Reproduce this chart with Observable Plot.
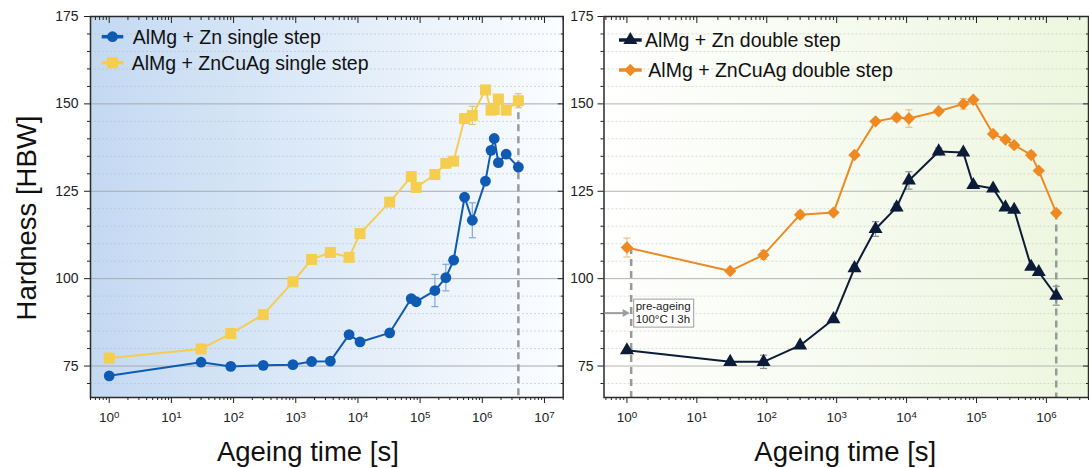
<!DOCTYPE html>
<html><head><meta charset="utf-8">
<script src="https://cdn.jsdelivr.net/npm/d3@7"></script>
<script src="https://cdn.jsdelivr.net/npm/@observablehq/plot@0.6"></script>
<style>
body{margin:0;background:#fff;}
#wrap{position:relative;width:1089px;height:468px;overflow:hidden;font-family:"Liberation Sans",Arial,sans-serif;}
#wrap svg{position:absolute;top:0;}
</style></head><body><div id="wrap"></div><script>
// ---------- data ----------
const yDomain = [66, 175];
const yMajor = [75, 100, 125, 150, 175];
const xMajorLeft = [1, 10, 100, 1e3, 1e4, 1e5, 1e6, 1e7];
const xMajorRight = [1, 10, 100, 1e3, 1e4, 1e5, 1e6];
const xDomainLeft = [0.5, 2e7];
const xDomainRight = [0.47, 4e6];

const seriesNames = ["AlMg + Zn single step", "AlMg + ZnCuAg single step", "AlMg + Zn double step", "AlMg + ZnCuAg double step"];
const seriesColors = ["#0f5ab3", "#f5cd4f", "#0c1c38", "#ef8a22"];
const errColors = ["#7fa9dc", "#d9c68a", "#8a8f99", "#f3bd84"];

const singleTime = [1, 30, 90, 300, 900, 1800, 3600, 7200, 10800, 32400, 72000, 86400, 172800, 259200, 345600, 518400, 691200, 1123200, 1382400, 1555200, 1814400, 2419200, 3801600];
const znSingle   = [72.2, 76.1, 74.9, 75.2, 75.4, 76.3, 76.4, 84.0, 81.9, 84.5, 94.3, 93.4, 96.6, 100.3, 105.3, 123.3, 116.7, 127.9, 136.7, 140.1, 133.2, 135.6, 131.9];
const znSingleErr = [0, 0, 0, 0, 0, 0, 0, 0, 0, 0, 0, 0, 4.6, 3.8, 0, 0, 5.0, 0, 0, 0, 0, 0, 0];
const cuagSingle = [77.3, 79.9, 84.3, 89.7, 99.1, 105.5, 107.5, 106.1, 112.9, 121.9, 129.2, 126.1, 129.8, 133.0, 133.6, 145.8, 146.7, 154.0, 148.2, 148.4, 151.4, 148.2, 150.9];
const cuagSingleErr = [0, 0, 0, 0, 0, 0, 0, 0, 0, 0, 0, 0, 0, 0, 0, 0, 2.6, 0, 0, 0, 0, 0, 2.0];

const doubleTime = [1, 30, 90, 300, 900, 1800, 3600, 7200, 10800, 28800, 64800, 90000, 172800, 259200, 345600, 604800, 777600, 1382400];
const znDouble   = [79.5, 76.2, 76.2, 80.9, 88.4, 103.0, 114.2, 120.4, 128.1, 136.4, 136.1, 126.8, 125.8, 120.4, 119.7, 103.4, 101.9, 95.1];
const znDoubleErr = [0, 0, 1.9, 0, 0, 0.8, 2.1, 1.0, 2.5, 1.0, 0, 0, 0, 0, 0, 0, 0, 2.7];
const cuagDouble = [108.9, 102.2, 106.8, 118.3, 118.9, 135.4, 145.0, 146.1, 145.8, 147.9, 150.0, 151.2, 141.4, 139.8, 138.2, 135.4, 130.9, 118.8];
const cuagDoubleErr = [2.7, 0, 1.3, 1.0, 0, 0, 0, 1.0, 2.5, 0, 1.5, 0, 0, 0, 0, 1.0, 0, 0.8];

const preAgeingT = 1.15;          // time of the pre-ageing marker line
const annotHardness = 90;         // level of the pre-ageing arrow
const annotLines = ["pre-ageing", "100°C I 3h"];
const xTitle = "Ageing time [s]";
const yTitle = "Hardness [HBW]";

// ---------- helpers ----------
const FONT = '"Liberation Sans", Arial, sans-serif';
const yMinor = d3.range(70, 175, 5).filter(v => v % 25 !== 0);
function minorLog(domain) {
  const out = [];
  for (let k = -1; k <= 8; k++) for (let m = 2; m <= 9; m++) {
    const v = m * Math.pow(10, k);
    if (v >= domain[0] && v <= domain[1]) out.push(v);
  }
  return out;
}
const powFormat = d => "10^" + Math.round(Math.log10(d));
const rows = (t, v, e) => t.map((tt, i) => ({t: tt, v: v[i], e: e[i]}));
const capSymbol = {draw(ctx, size) { const w = Math.sqrt(size); ctx.moveTo(-w, 0); ctx.lineTo(w, 0); }};

function dimsOf(args) { return args.find(a => a && typeof a === "object" && a.marginLeft !== undefined && a.width !== undefined); }
function scalesOf(args) { return args.find(a => a && typeof a.x === "function" && typeof a.y === "function"); }

function background(id, from, to) {
  return (...args) => {
    const d = dimsOf(args);
    const g = d3.create("svg:g");
    const grad = g.append("defs").append("linearGradient").attr("id", id)
      .attr("x1", 0).attr("x2", 1).attr("y1", 0).attr("y2", 0);
    grad.append("stop").attr("offset", "0%").attr("stop-color", from);
    grad.append("stop").attr("offset", "100%").attr("stop-color", to);
    g.append("rect").attr("x", d.marginLeft).attr("y", d.marginTop)
      .attr("width", d.width - d.marginLeft - d.marginRight)
      .attr("height", d.height - d.marginTop - d.marginBottom)
      .attr("fill", `url(#${id})`);
    return g.node();
  };
}

function seriesMarks(data, color, errColor, symbol, r) {
  const withErr = data.filter(d => d.e > 0);
  return [
    Plot.ruleX(withErr, {x: "t", y1: d => d.v - d.e, y2: d => d.v + d.e, stroke: errColor, strokeWidth: 1.2}),
    Plot.dot(withErr, {x: "t", y: d => d.v - d.e, symbol: capSymbol, r: 2, fill: "none", stroke: errColor, strokeWidth: 1.2}),
    Plot.dot(withErr, {x: "t", y: d => d.v + d.e, symbol: capSymbol, r: 2, fill: "none", stroke: errColor, strokeWidth: 1.2}),
    Plot.line(data, {x: "t", y: "v", stroke: color, strokeWidth: 2}),
    Plot.dot(data, {x: "t", y: "v", symbol, r, fill: color, stroke: "none"})
  ];
}

function axes(xMajor, xMinor, yPad) {
  const o = {label: null, stroke: "#222", color: "#222"};
  const blank = () => "";
  return [
    Plot.axisY({...o, anchor: "left", ticks: yMajor, tickSize: 6, tickPadding: yPad, fontSize: 14, tickFormat: d => String(d)}),
    Plot.axisY({...o, anchor: "left", ticks: yMinor, tickSize: 3, tickFormat: blank}),
    Plot.axisY({...o, anchor: "right", ticks: yMajor, tickSize: -6, tickFormat: blank}),
    Plot.axisY({...o, anchor: "right", ticks: yMinor, tickSize: -3, tickFormat: blank}),
    Plot.axisX({...o, anchor: "bottom", ticks: xMajor, tickSize: 6, tickPadding: 9, fontSize: 13.5, tickFormat: powFormat}),
    Plot.axisX({...o, anchor: "bottom", ticks: xMinor, tickSize: 3, tickFormat: blank}),
    Plot.axisX({...o, anchor: "top", ticks: xMajor, tickSize: -6, tickFormat: blank}),
    Plot.axisX({...o, anchor: "top", ticks: xMinor, tickSize: -3, tickFormat: blank})
  ];
}

function legend(items, pos) {
  return (...args) => {
    const d = dimsOf(args);
    const g = d3.create("svg:g").attr("font-family", FONT).attr("text-anchor", "start");
    items.forEach((it, i) => {
      const y = d.marginTop + pos.y[i];
      const x0 = d.marginLeft + pos.lineX[0], x1 = d.marginLeft + pos.lineX[1];
      g.append("line").attr("x1", x0).attr("x2", x1).attr("y1", y).attr("y2", y)
        .attr("stroke", it.color).attr("stroke-width", 3.5);
      g.append("path").attr("d", d3.symbol(it.sym, Math.PI * it.r * it.r)())
        .attr("transform", `translate(${(x0 + x1) / 2},${y})`).attr("fill", it.color);
      g.append("text").attr("x", d.marginLeft + pos.textX[i]).attr("y", y + pos.fs * 0.37)
        .attr("font-size", pos.fs).attr("fill", "#111").attr("text-anchor", "start").text(it.name);
    });
    return g.node();
  };
}

function annotation() {
  return (...args) => {
    const d = dimsOf(args), s = scalesOf(args);
    const px = s.x(preAgeingT), py = s.y(annotHardness);
    const g = d3.create("svg:g").attr("font-family", FONT).attr("text-anchor", "start");
    const c = "#9d9d9d";
    g.append("line").attr("x1", d.marginLeft + 1).attr("x2", px - 6).attr("y1", py).attr("y2", py)
      .attr("stroke", c).attr("stroke-width", 2);
    g.append("path").attr("d", `M${px - 1},${py}L${px - 8},${py - 4}L${px - 8},${py + 4}Z`).attr("fill", c);
    g.append("rect").attr("x", px + 3).attr("y", py - 14).attr("width", 60).attr("height", 28)
      .attr("fill", "rgba(255,255,255,0.75)").attr("stroke", c).attr("stroke-width", 1);
    annotLines.forEach((t, i) => {
      g.append("text").attr("x", px + 5).attr("y", py - 3 + i * 12.6).attr("font-size", 11.5)
        .attr("fill", "#222").attr("text-anchor", "start").text(t);
    });
    return g.node();
  };
}

function title(text, opts) {
  return Plot.text([text], {text: d => d, fontSize: 27.5, fill: "#111", fontFamily: FONT, textAnchor: "middle", ...opts});
}

// turn "10^k" tick labels into 10 with a superscript exponent
function superscriptTicks(svg) {
  d3.select(svg).selectAll("text").each(function () {
    const t = this.textContent;
    const m = /^10\^(-?\d+)$/.exec(t);
    if (!m) return;
    const sel = d3.select(this);
    sel.text(null);
    sel.append("tspan").text("10");
    sel.append("tspan").attr("dy", "-0.45em").attr("font-size", "0.72em").text(m[1]);
  });
  return svg;
}

// ---------- left panel ----------
const znS = rows(singleTime, znSingle, znSingleErr);
const cuS = rows(singleTime, cuagSingle, cuagSingleErr);
const dashLeft = [{t: singleTime[singleTime.length - 1], top: cuagSingle[cuagSingle.length - 1]}];

const left = superscriptTicks(Plot.plot({
  width: 572, height: 468,
  marginLeft: 90, marginRight: 9.3, marginTop: 16, marginBottom: 71,
  style: {background: "transparent", fontFamily: FONT, color: "#222", overflow: "visible"},
  x: {type: "log", domain: xDomainLeft},
  y: {domain: yDomain},
  marks: [
    background("gradL", "#c3d9f2", "#fbfdff"),
    Plot.gridY({ticks: yMinor, stroke: "#b9c0c8", strokeOpacity: 0.6, strokeDasharray: "2,2"}),
    Plot.gridY({ticks: yMajor.slice(0, -1), stroke: "#a6abb1", strokeOpacity: 1}),
    Plot.ruleX(dashLeft, {x: "t", y1: "top", y2: yDomain[0], stroke: "#999", strokeWidth: 2.5, strokeDasharray: "7,5"}),
    ...seriesMarks(cuS, seriesColors[1], errColors[1], "square", 6.2),
    ...seriesMarks(znS, seriesColors[0], errColors[0], "circle", 5.4),
    ...axes(xMajorLeft, minorLog(xDomainLeft), 6),
    Plot.frame({stroke: "#2a2a2a", strokeWidth: 1.5}),
    legend([
      {name: seriesNames[0], color: seriesColors[0], sym: d3.symbolCircle, r: 5.4},
      {name: seriesNames[1], color: seriesColors[1], sym: d3.symbolSquare, r: 6.2}
    ], {y: [20.7, 46.7], lineX: [11.7, 33.3], textX: [42.7, 41.7], fs: 19.5}),
    title(yTitle, {frameAnchor: "left", dx: -63, dy: 11, rotate: -90, lineAnchor: "middle"}),
    title(xTitle, {frameAnchor: "bottom", dx: -19, dy: 63, lineAnchor: "bottom"})
  ]
}));

// ---------- right panel ----------
const znD = rows(doubleTime, znDouble, znDoubleErr);
const cuD = rows(doubleTime, cuagDouble, cuagDoubleErr);
const dashRight = [
  {t: preAgeingT, top: cuagDouble[0]},
  {t: doubleTime[doubleTime.length - 1], top: cuagDouble[cuagDouble.length - 1]}
];

const right = superscriptTicks(Plot.plot({
  width: 529, height: 468,
  marginLeft: 43.5, marginRight: 1, marginTop: 16, marginBottom: 71,
  style: {background: "transparent", fontFamily: FONT, color: "#222", overflow: "visible"},
  x: {type: "log", domain: xDomainRight},
  y: {domain: yDomain},
  marks: [
    background("gradR", "#ffffff", "#edf6df"),
    Plot.gridY({ticks: yMinor, stroke: "#c3c8c0", strokeOpacity: 0.6, strokeDasharray: "2,2"}),
    Plot.gridY({ticks: yMajor.slice(0, -1), stroke: "#b3b6b0", strokeOpacity: 1}),
    Plot.ruleX(dashRight, {x: "t", y1: "top", y2: yDomain[0], stroke: "#999", strokeWidth: 2.5, strokeDasharray: "7,5"}),
    ...seriesMarks(cuD, seriesColors[3], errColors[3], "diamond2", 5.6),
    ...seriesMarks(znD, seriesColors[2], errColors[2], "triangle", 5.2),
    ...axes(xMajorRight, minorLog(xDomainRight), 4.5),
    Plot.frame({stroke: "#2a2a2a", strokeWidth: 1.5}),
    annotation(),
    legend([
      {name: seriesNames[2], color: seriesColors[2], sym: d3.symbolTriangle, r: 5.2},
      {name: seriesNames[3], color: seriesColors[3], sym: d3.symbolDiamond2, r: 5.6}
    ], {y: [24, 54], lineX: [15.5, 38.2], textX: [41.5, 44.8], fs: 19.5}),
    title(xTitle, {frameAnchor: "bottom", dx: -1, dy: 63, lineAnchor: "bottom"})
  ]
}));

const wrap = document.getElementById("wrap");
left.style.left = "0px";
right.style.left = "560px";
wrap.appendChild(left);
wrap.appendChild(right);
</script></body></html>
